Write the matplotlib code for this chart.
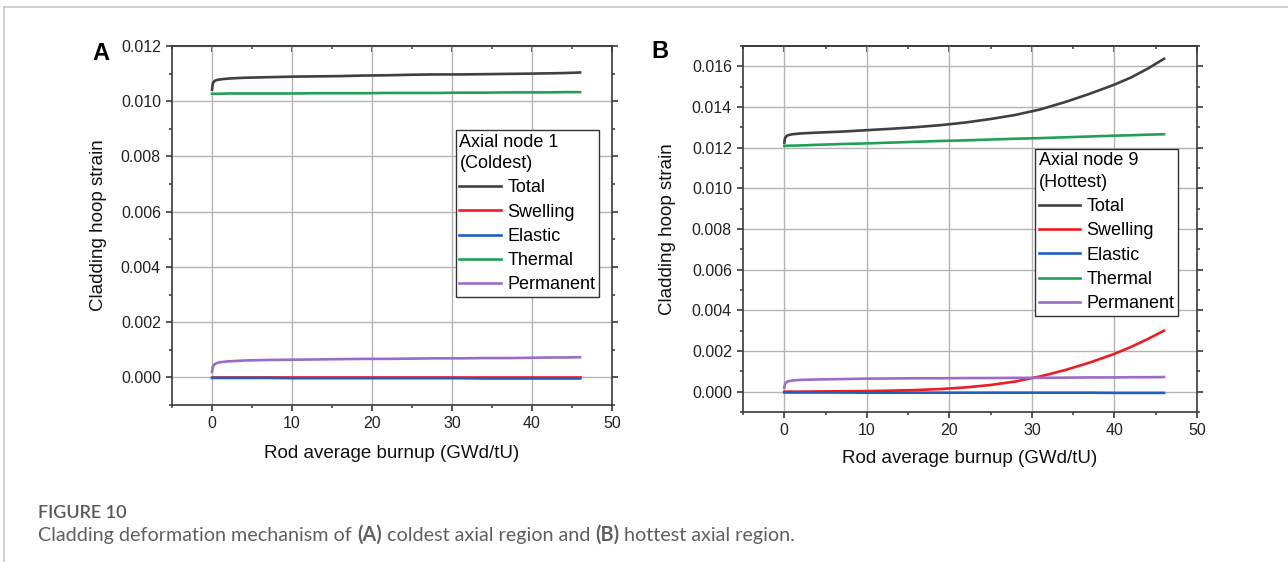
import numpy as np
import matplotlib
matplotlib.use("Agg")
import matplotlib.pyplot as plt
from matplotlib.lines import Line2D
from matplotlib.ticker import MultipleLocator, FormatStrFormatter

plt.rcParams['font.family'] = ['Liberation Sans', 'DejaVu Sans']

# burnup points (GWd/tU)
burnup = [0, 0.1, 0.3, 0.6, 1, 2, 4, 7, 10, 13, 16, 19, 22, 25, 28, 31, 34, 37, 40, 42, 44, 46]

# panel A - axial node 1 (coldest)
total_A = [0.01042, 0.01065, 0.01073, 0.01077, 0.01079, 0.01082, 0.01085, 0.01087, 0.01089, 0.01090, 0.01091,
           0.01093, 0.01094, 0.01096, 0.01097, 0.01097, 0.01098, 0.01099, 0.01100, 0.01101, 0.01102, 0.01104]
swelling_A = [0.00001] * 22
elastic_A = [-0.00002] * 8 + [-0.00003] * 8 + [-0.00004] * 6
thermal_A = [0.01027, 0.01027, 0.01027, 0.01027, 0.01027, 0.01028, 0.01028, 0.01028, 0.01028, 0.01029, 0.01029,
             0.01029, 0.01030, 0.01030, 0.01030, 0.01031, 0.01031, 0.01032, 0.01032, 0.01032, 0.01033, 0.01033]
perm_A = [0.00020, 0.00038, 0.00047, 0.00052, 0.00055, 0.00058, 0.00061, 0.00063, 0.00064, 0.00065, 0.00066,
          0.00067, 0.00067, 0.00068, 0.00069, 0.00069, 0.00070, 0.00070, 0.00071, 0.00072, 0.00072, 0.00073]

# panel B - axial node 9 (hottest)
total_B = [0.01225, 0.01248, 0.01258, 0.01263, 0.01266, 0.01270, 0.01274, 0.01279, 0.01286, 0.01293, 0.01301,
           0.01311, 0.01324, 0.01341, 0.01361, 0.01388, 0.01424, 0.01465, 0.01510, 0.01545, 0.01588, 0.01637]
swelling_B = [0, 0, 0, 0, 0, 0, 0.00001, 0.00002, 0.00003, 0.00005, 0.00008,
              0.00013, 0.00021, 0.00033, 0.00050, 0.00075, 0.00106, 0.00143, 0.00186, 0.00220, 0.00258, 0.00300]
elastic_B = [-0.00004] * 8 + [-0.00005] * 10 + [-0.00006] * 4
thermal_B = [0.01209, 0.01209, 0.01209, 0.01210, 0.01210, 0.01211, 0.01214, 0.01218, 0.01221, 0.01225, 0.01229,
             0.01233, 0.01236, 0.01240, 0.01244, 0.01247, 0.01251, 0.01255, 0.01259, 0.01261, 0.01264, 0.01266]
perm_B = [0.00020, 0.00040, 0.00048, 0.00052, 0.00055, 0.00058, 0.00060, 0.00062, 0.00064, 0.00065, 0.00066,
          0.00066, 0.00067, 0.00067, 0.00068, 0.00068, 0.00069, 0.00070, 0.00070, 0.00071, 0.00071, 0.00072]

names = ['Total', 'Swelling', 'Elastic', 'Thermal', 'Permanent']
colors = ['#404040', '#ee1c25', '#1f5fbf', '#22a155', '#9b6cc4']

fig = plt.figure(figsize=(12.88, 5.62), dpi=100)

# thin page frame on top / left
fig.add_artist(Line2D([4 / 1288, 1], [1 - 7 / 562, 1 - 7 / 562], color='#c8c8c8', lw=1.2))
fig.add_artist(Line2D([4 / 1288, 4 / 1288], [0, 1 - 7 / 562], color='#c8c8c8', lw=1.2))


def make_panel(rect, series, ylim, title, letter, letter_xy, leg_xy, lab_coords):
    ax = fig.add_axes(rect)
    for vals, name, c in zip(series, names, colors):
        ax.plot(burnup, vals, color=c, lw=1.9, label=name)
    ax.set_xlim(-5, 50)
    ax.set_ylim(*ylim)
    ax.xaxis.set_major_locator(MultipleLocator(10))
    ax.xaxis.set_minor_locator(MultipleLocator(5))
    ax.yaxis.set_major_locator(MultipleLocator(0.002))
    ax.yaxis.set_minor_locator(MultipleLocator(0.001))
    ax.yaxis.set_major_formatter(FormatStrFormatter('%.3f'))
    ax.grid(True, which='major', color='#b4b4b4', lw=1.0)
    ax.set_axisbelow(True)
    for s in ax.spines.values():
        s.set_color('#3a3a3a')
        s.set_linewidth(1.2)
    ax.tick_params(axis='both', which='major', direction='out', length=4, width=1.2,
                   color='#3a3a3a', labelsize=11.5, labelcolor='#222222', pad=4)
    ax.tick_params(axis='both', which='minor', direction='out', length=2.5, width=1.1, color='#3a3a3a')
    ax.tick_params(axis='y', which='both', right=True)
    top = ax.secondary_xaxis('top')
    top.xaxis.set_major_locator(MultipleLocator(10))
    top.xaxis.set_minor_locator(MultipleLocator(5))
    top.tick_params(which='major', direction='in', length=4, width=1.2, color='#3a3a3a', labeltop=False)
    top.tick_params(which='minor', direction='in', length=2.5, width=1.1, color='#3a3a3a')
    top.spines['top'].set_color('#3a3a3a')
    top.spines['top'].set_linewidth(1.2)

    ax.set_xlabel('Rod average burnup (GWd/tU)', fontsize=13.5, color='#111111')
    ax.set_ylabel('Cladding hoop strain', fontsize=13.5, color='#111111')
    ax.xaxis.set_label_coords(0.5, lab_coords[1])
    ax.yaxis.set_label_coords(lab_coords[0], 0.5)
    ax.xaxis.label.set_va('center')
    ax.yaxis.label.set_va('center')

    leg = ax.legend(title=title, loc='upper left', bbox_to_anchor=leg_xy, fontsize=13,
                    title_fontsize=13, frameon=True, fancybox=False, edgecolor='#333333',
                    framealpha=1, borderpad=0.2, borderaxespad=0, handlelength=2.3,
                    handletextpad=0.35, labelspacing=0.4)
    leg._legend_box.align = 'left'
    leg.get_title().set_linespacing(1.35)
    leg.get_frame().set_linewidth(1.0)

    fig.text(letter_xy[0] / 1288, 1 - letter_xy[1] / 562, letter, fontsize=17, fontweight='bold',
             ha='left', va='center', color='black')
    return ax


make_panel([172 / 1288, 1 - 405 / 562, 440 / 1288, 359 / 562],
           [total_A, swelling_A, elastic_A, thermal_A, perm_A], (-0.001, 0.012),
           'Axial node 1\n(Coldest)', 'A', (92, 53), (0.645, 0.766), (-0.168, -0.134))
make_panel([743 / 1288, 1 - 412 / 562, 454 / 1288, 366 / 562],
           [total_B, swelling_B, elastic_B, thermal_B, perm_B], (-0.001, 0.017),
           'Axial node 9\n(Hottest)', 'B', (651, 51), (0.643, 0.719), (-0.167, -0.128))

# caption
cap_font = ['Lato', 'DejaVu Sans']
fig.text(38 / 1288, 1 - 513 / 562, 'FIGURE 10', fontsize=13, color='#585858', family=cap_font,
         fontweight='semibold', va='center', ha='left')
pieces = [('Cladding deformation mechanism of ', 'normal'), ('(A)', 'bold'),
          (' coldest axial region and ', 'normal'), ('(B)', 'bold'), (' hottest axial region.', 'normal')]
renderer = fig.canvas.get_renderer()
x = 38 / 1288
for txt, w in pieces:
    t = fig.text(x, 1 - 535 / 562, txt, fontsize=14.2, color='#606060', family=cap_font,
                 fontweight=w, va='center', ha='left')
    bb = t.get_window_extent(renderer=renderer)
    x += bb.width / 1288

fig.savefig('out.png', dpi=100)
